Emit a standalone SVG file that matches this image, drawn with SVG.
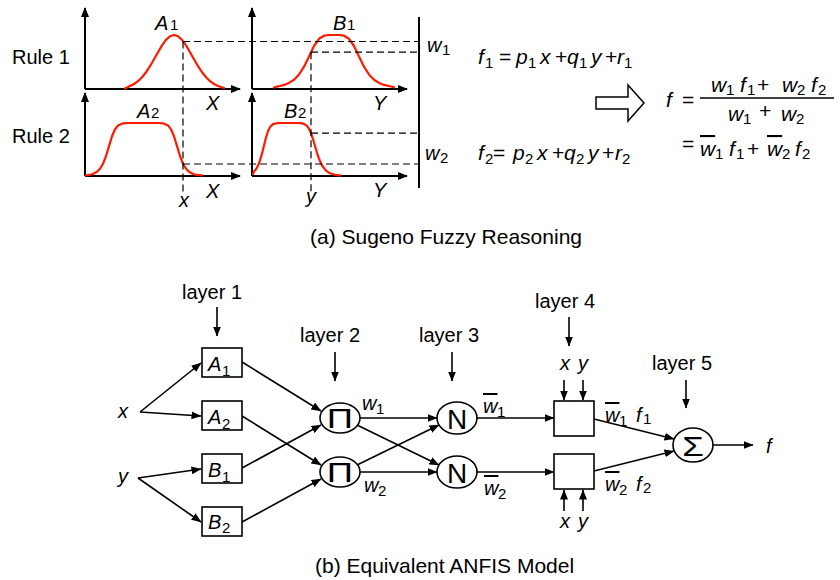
<svg xmlns="http://www.w3.org/2000/svg" width="840" height="580" viewBox="0 0 840 580">
<defs>
<style>
.t{font-family:"Liberation Sans",Arial,sans-serif;font-size:20px;fill:#000}
.i{font-style:italic}
.s{font-size:15px;font-style:normal}
.e{font-size:21px}
.cap{font-size:21px}
.ob{text-decoration:overline}
.ax{stroke:#000;stroke-width:2;fill:none;marker-end:url(#axh)}
.mf{stroke:#ff1a00;stroke-width:2.2;fill:none;stroke-linejoin:round;stroke-linecap:round}
.dash{stroke:#000;stroke-width:1.2;fill:none;stroke-dasharray:7 4}
.ln{stroke:#000;stroke-width:1.6;fill:none;marker-end:url(#ah)}
.nd{fill:#fff;stroke:#000;stroke-width:1.6}
.sym{font-family:"Liberation Sans",Arial,sans-serif;font-size:28px;fill:#000;text-anchor:middle;dominant-baseline:central}
</style>
<marker id="ah" markerUnits="userSpaceOnUse" markerWidth="10" markerHeight="8" refX="9.5" refY="4" orient="auto">
<path d="M0,0 L10,4 L0,8 z" fill="#000"/>
</marker>
<marker id="axh" markerUnits="userSpaceOnUse" markerWidth="10" markerHeight="8" refX="9" refY="4" orient="auto">
<path d="M0,0 L10,4 L0,8 z" fill="#000"/>
</marker>
</defs>
<rect width="840" height="580" fill="#fff"/>

<!-- (a) Sugeno fuzzy reasoning -->
<g id="rule-labels">
<text class="t" x="12" y="64">Rule 1</text>
<text class="t" x="12" y="143">Rule 2</text>
</g>

<g id="plot-A1">
<path class="ax" d="M85,89 V8"/>
<path class="ax" d="M85,89 H240"/>
<path class="mf" d="M125,88.6 L130,86.0 L134,84.0 L138,81.2 L142,77.3 L146,72.2 L150,66.2 L154,59.3 L158,52.2 L162,45.4 L166,39.9 L170,36.3 L174,35 L178,36.3 L182,39.9 L186,45.4 L190,52.2 L194,59.3 L198,66.2 L202,72.2 L206,77.3 L210,81.2 L214,84.0 L218,86.0 L224,88.0"/>
<text class="t i" x="155" y="30">A<tspan class="s" x="170" y="30">1</tspan></text>
<text class="t i" x="206" y="110" font-size="21">X</text>
</g>

<g id="plot-B1">
<path class="ax" d="M252,89 V8"/>
<path class="ax" d="M252,89 H407"/>
<path class="mf" d="M274,87.5 L277,86.6 L280,86.0 L284,84.9 L289,82.9 L294,79.7 L299,74.5 L304,66.7 L309,56.4 L314,46.0 L319,38.8 L324,35.7 L329,35.0 L334,35 L339,35.0 L344,35.7 L349,38.8 L354,46.0 L359,56.4 L364,66.7 L369,74.5 L374,79.7 L379,82.9 L384,84.9 L389,86.0 L394,87.3"/>
<text class="t i" x="333" y="30">B<tspan class="s" x="347" y="30">1</tspan></text>
<text class="t i" x="373" y="110" font-size="21">Y</text>
</g>

<g id="plot-A2">
<path class="ax" d="M85,176 V93"/>
<path class="ax" d="M85,176 H240"/>
<path class="mf" d="M86,175.4 L89,174.95 L93,174.0 L97,171.8 L100,168.8 L103,163.8 L106,156.0 L109,146.1 L112,136.3 L115,129.3 L118,125.4 L123,123.3 L128,123.0 L143,123 L158,123.0 L163,123.3 L168,125.4 L171,129.3 L174,136.3 L177,146.1 L180,156.0 L183,163.8 L186,168.8 L189,171.8 L193,174.0 L197,174.95 L202,175.4"/>
<text class="t i" x="137" y="118">A<tspan class="s" x="151" y="118">2</tspan></text>
<text class="t i" x="206" y="198" font-size="21">X</text>
<text class="t i" x="179" y="207">x</text>
</g>

<g id="plot-B2">
<path class="ax" d="M252,176 V93"/>
<path class="ax" d="M252,176 H407"/>
<path class="mf" d="M253,174 L254,171.5 L256,169.2 L258,165.6 L260,160.4 L262,153.5 L264,145.4 L266,137.5 L268,131.1 L270,127.0 L273,124.1 L277,123.2 L281,123 L297,123 L301,123.2 L304,123.8 L307,125.9 L309,128.8 L311,133.2 L313,139.2 L315,146.0 L317,152.8 L319,158.8 L322,165.5 L326,170.7 L330,173.3 L335,174.8 L340,175.3"/>
<text class="t i" x="284" y="118">B<tspan class="s" x="298" y="118">2</tspan></text>
<text class="t i" x="373" y="197" font-size="21">Y</text>
<text class="t i" x="306" y="203">y</text>
</g>

<g id="firing-strengths">
<path class="dash" d="M183,41.5 H419 M183,41.5 V192 M311,52.2 H419 M311,52.2 V192 M311,133.2 H419 M183,164 H419"/>
<path d="M419,17 V188" stroke="#000" stroke-width="2"/>
<text class="t i" x="427" y="52">w<tspan class="s" x="442" y="55">1</tspan></text>
<text class="t i" x="425" y="160">w<tspan class="s" x="440" y="163">2</tspan></text>
</g>

<g id="rule-outputs">
<text class="t i e" x="478" y="64">f<tspan class="s" x="485" y="68">1</tspan><tspan font-style="normal" x="499" y="64">=</tspan><tspan x="516" y="64">p</tspan><tspan class="s" x="528" y="68">1</tspan><tspan x="540" y="64">x</tspan><tspan font-style="normal" x="555" y="64">+</tspan><tspan x="567" y="64">q</tspan><tspan class="s" x="579" y="68">1</tspan><tspan x="591" y="64">y</tspan><tspan font-style="normal" x="605" y="64">+</tspan><tspan x="617" y="64">r</tspan><tspan class="s" x="624" y="68">1</tspan></text>
<text class="t i e" x="478" y="160">f<tspan class="s" x="485" y="164">2</tspan><tspan font-style="normal" x="493" y="160">=</tspan><tspan x="513" y="160">p</tspan><tspan class="s" x="525" y="164">2</tspan><tspan x="537" y="160">x</tspan><tspan font-style="normal" x="552" y="160">+</tspan><tspan x="564" y="160">q</tspan><tspan class="s" x="576" y="164">2</tspan><tspan x="588" y="160">y</tspan><tspan font-style="normal" x="602" y="160">+</tspan><tspan x="615" y="160">r</tspan><tspan class="s" x="622" y="164">2</tspan></text>
</g>

<g id="implies-arrow">
<polygon points="596,97 628,97 628,85 644,103 628,121 628,109 596,109" fill="#fff" stroke="#000" stroke-width="1.5"/>
</g>

<g id="overall-output">
<text class="t i e" x="666" y="107">f<tspan font-style="normal" x="682" y="107">=</tspan></text>
<path d="M700,98 H834" stroke="#000" stroke-width="1.5"/>
<text class="t i e" x="711" y="92">w<tspan class="s" x="726" y="95">1</tspan><tspan x="740" y="92">f</tspan><tspan class="s" x="747" y="95">1</tspan><tspan font-style="normal" x="757" y="92">+</tspan><tspan x="782" y="92">w</tspan><tspan class="s" x="797" y="95">2</tspan><tspan x="811" y="92">f</tspan><tspan class="s" x="818" y="95">2</tspan></text>
<text class="t i e" x="728" y="121">w<tspan class="s" x="743" y="124">1</tspan><tspan font-style="normal" x="759" y="118">+</tspan><tspan x="781" y="121">w</tspan><tspan class="s" x="796" y="124">2</tspan></text>
<text class="t i e" x="682" y="151"><tspan font-style="normal">=</tspan><tspan class="ob" x="700" y="156">w</tspan><tspan class="s" x="715" y="159">1</tspan><tspan x="729" y="156">f</tspan><tspan class="s" x="736" y="159">1</tspan><tspan font-style="normal" x="747" y="156">+</tspan><tspan class="ob" x="767" y="156">w</tspan><tspan class="s" x="782" y="159">2</tspan><tspan x="795" y="156">f</tspan><tspan class="s" x="802" y="159">2</tspan></text>
</g>

<text class="t cap" x="310" y="244">(a) Sugeno Fuzzy Reasoning</text>

<!-- (b) Equivalent ANFIS model -->
<g id="layer-labels">
<text class="t" x="182" y="299">layer 1</text>
<text class="t" x="300" y="342">layer 2</text>
<text class="t" x="419" y="342">layer 3</text>
<text class="t" x="535" y="308">layer 4</text>
<text class="t" x="652" y="370">layer 5</text>
</g>

<g id="connectors">
<path class="ln" d="M217,307 V336"/>
<path class="ln" d="M335,352 V381"/>
<path class="ln" d="M452,352 V381"/>
<path class="ln" d="M569,317 V346"/>
<path class="ln" d="M686,380 V408"/>
<path class="ln" d="M140,412 L201,363"/>
<path class="ln" d="M140,412 L201,416"/>
<path class="ln" d="M138,478 L201,469"/>
<path class="ln" d="M138,478 L201,522"/>
<path class="ln" d="M242,362 L321,411"/>
<path class="ln" d="M242,416 L321,465"/>
<path class="ln" d="M242,468 L321,425"/>
<path class="ln" d="M242,522 L321,479"/>
<path class="ln" d="M360,418 L437,418"/>
<path class="ln" d="M357,425 L439,465"/>
<path class="ln" d="M357,465 L439,425"/>
<path class="ln" d="M360,472 L437,472"/>
<path class="ln" d="M477,418 L554,418"/>
<path class="ln" d="M477,472 L554,472"/>
<path class="ln" d="M594,419 L674,439"/>
<path class="ln" d="M594,471 L674,451"/>
<path class="ln" d="M713,445 L753,445"/>
<path class="ln" d="M564,380 V400"/>
<path class="ln" d="M583,380 V400"/>
<path class="ln" d="M564,511 V490"/>
<path class="ln" d="M583,511 V490"/>
</g>

<g id="input-x"><text class="t i" x="118" y="418">x</text></g>
<g id="input-y"><text class="t i" x="118" y="483">y</text></g>

<g id="node-A1"><rect class="nd" x="202" y="348" width="40" height="29"/><text class="t i" x="208" y="371">A<tspan class="s" x="222" y="376">1</tspan></text></g>
<g id="node-A2"><rect class="nd" x="202" y="401" width="40" height="29"/><text class="t i" x="208" y="424">A<tspan class="s" x="222" y="429">2</tspan></text></g>
<g id="node-B1"><rect class="nd" x="202" y="454" width="40" height="29"/><text class="t i" x="208" y="477">B<tspan class="s" x="222" y="482">1</tspan></text></g>
<g id="node-B2"><rect class="nd" x="202" y="507" width="40" height="29"/><text class="t i" x="208" y="529">B<tspan class="s" x="222" y="533">2</tspan></text></g>

<g id="node-P1"><ellipse class="nd" cx="340" cy="418" rx="20" ry="15"/><text class="sym" transform="translate(340,419) scale(1.3,1)">Π</text></g>
<g id="node-P2"><ellipse class="nd" cx="340" cy="472" rx="20" ry="15"/><text class="sym" transform="translate(340,473) scale(1.3,1)">Π</text></g>
<g id="node-N1"><ellipse class="nd" cx="457" cy="418" rx="20" ry="16"/><text class="sym" x="457" y="419">N</text></g>
<g id="node-N2"><ellipse class="nd" cx="457" cy="472" rx="20" ry="16"/><text class="sym" x="457" y="473">N</text></g>
<g id="node-L4a"><rect class="nd" x="554" y="401" width="40" height="35"/></g>
<g id="node-L4b"><rect class="nd" x="554" y="454" width="40" height="35"/></g>
<g id="node-S"><ellipse class="nd" cx="693" cy="445" rx="20" ry="17"/><text class="sym" transform="translate(693,446) scale(1.25,1)">Σ</text></g>

<g id="edge-labels">
<text class="t i" x="362" y="410">w<tspan class="s" x="376" y="414">1</tspan></text>
<text class="t i" x="364" y="492">w<tspan class="s" x="378" y="496">2</tspan></text>
<text class="t i" x="483" y="413"><tspan class="ob">w</tspan><tspan class="s" x="497" y="417">1</tspan></text>
<text class="t i" x="484" y="495"><tspan class="ob">w</tspan><tspan class="s" x="498" y="499">2</tspan></text>
<text class="t i" x="605" y="422"><tspan class="ob">w</tspan><tspan class="s" x="619" y="426">1</tspan><tspan x="636" y="422">f</tspan><tspan class="s" x="643" y="424">1</tspan></text>
<text class="t i" x="605" y="491"><tspan class="ob">w</tspan><tspan class="s" x="619" y="495">2</tspan><tspan x="636" y="491">f</tspan><tspan class="s" x="643" y="493">2</tspan></text>
<text class="t i" x="560" y="370">x</text><text class="t i" x="578" y="370">y</text>
<text class="t i" x="560" y="528">x</text><text class="t i" x="578" y="528">y</text>
<text class="t i" x="766" y="453">f</text>
</g>

<text class="t cap" x="315" y="573">(b) Equivalent ANFIS Model</text>
</svg>
